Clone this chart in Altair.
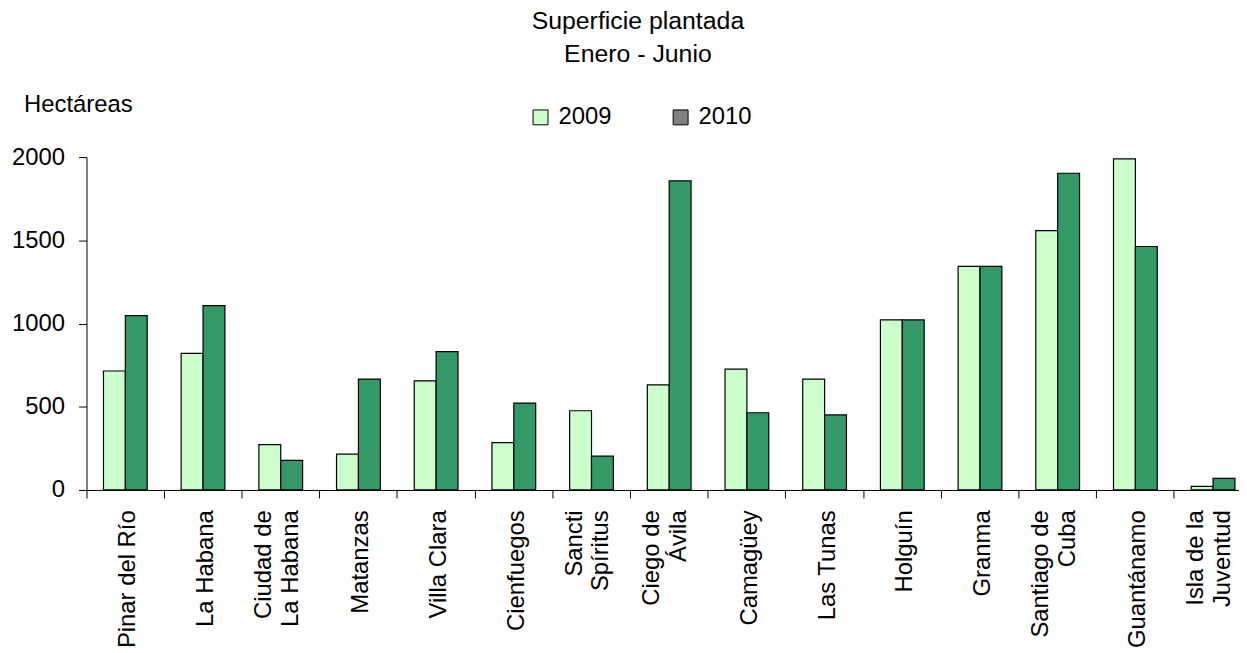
import altair as alt
import pandas as pd

FONT = "Liberation Sans"

provincias = ["Pinar del Río", "La Habana", "Ciudad de\nLa Habana", "Matanzas",
              "Villa Clara", "Cienfuegos", "Sancti\nSpíritus", "Ciego de\nÁvila",
              "Camagüey", "Las Tunas", "Holguín", "Granma", "Santiago de\nCuba",
              "Guantánamo", "Isla de la\nJuventud"]
v2009 = [715, 821, 273, 215, 656, 285, 476, 632, 726, 666, 1022, 1343, 1558, 1989, 22]
v2010 = [1048, 1108, 178, 666, 831, 522, 203, 1857, 464, 451, 1022, 1343, 1903, 1463, 70]
years = ["2009", "2010"]
y_ticks = [0, 500, 1000, 1500, 2000]

rows = []
for p, a, b in zip(provincias, v2009, v2010):
    rows.append({"prov": p, "year": years[0], "value": a})
    rows.append({"prov": p, "year": years[1], "value": b})
df = pd.DataFrame(rows)

base = alt.Chart(df)

bars = base.mark_bar(stroke="black", strokeWidth=1.2).encode(
    x=alt.X("prov:N", sort=provincias,
            scale=alt.Scale(range=[0, 1173], paddingInner=0, paddingOuter=0),
            axis=alt.Axis(title=None, labelAngle=-90, labelAlign="right", labelBaseline="middle",
                          labelExpr="split(datum.label, '\\n')",
                          labelOffset={"condition": {"test": "indexof(datum.value, '\\n') >= 0",
                                                     "value": -17},
                                       "value": 3},
                          bandPosition=0, tickSize=8, tickColor="black",
                          domainColor="black", labelPadding=12, labelFontSize=24,
                          labelLineHeight=27, labelFont=FONT, labelColor="black",
                          labelLimit=400, labelOverlap=False, grid=False)),
    xOffset=alt.XOffset("year:N", sort=years,
                        scale=alt.Scale(paddingInner=0, paddingOuter=0.776)),
    y=alt.Y("value:Q", scale=alt.Scale(domain=[0, 2000], nice=False),
            axis=alt.Axis(values=y_ticks, format="d", title="Hectáreas", titleAngle=0,
                          titleAlign="right", titleX=46, titleY=-46, titleBaseline="alphabetic",
                          titleFontWeight="normal", titleFontSize=24, titleFont=FONT,
                          titleColor="black", tickSize=8, tickColor="black",
                          domainColor="black", labelPadding=14, labelFontSize=24,
                          labelFont=FONT, labelColor="black", grid=False)),
    color=alt.Color("year:N", scale=alt.Scale(domain=years, range=["#CCFFCC", "#339966"]),
                    legend=None),
)

legend_layer = base.mark_square(size=0, stroke="black", strokeWidth=1, filled=True,
                                opacity=1).encode(
    color=alt.Color("year:N", scale=alt.Scale(domain=years, range=["#CCFFCC", "#808080"]),
                    legend=alt.Legend(title=None, orient="none", legendX=445, legendY=-52,
                                      direction="horizontal", symbolType="square",
                                      symbolSize=225, symbolStrokeColor="black",
                                      symbolStrokeWidth=1, symbolOpacity=1,
                                      labelFontSize=24, labelFont=FONT,
                                      labelColor="black", labelOffset=6, columnPadding=57,
                                      padding=0)),
)

chart = alt.layer(bars, legend_layer).resolve_scale(color="independent").properties(
    width=1160, height=335,
    background="white",
    autosize=alt.AutoSizeParams(type="none"),
    padding={"left": 79, "top": 148, "right": 0, "bottom": 162},
    title=alt.TitleParams(text=["Superficie plantada", "Enero - Junio"], fontSize=25,
                          font=FONT, fontWeight="normal", color="black", lineHeight=33,
                          anchor="middle", dx=-25, offset=26),
).configure_view(strokeWidth=0, stroke="transparent").configure_axis(grid=False)

chart.save("out.html", embed_options={"renderer": "svg", "actions": False})
